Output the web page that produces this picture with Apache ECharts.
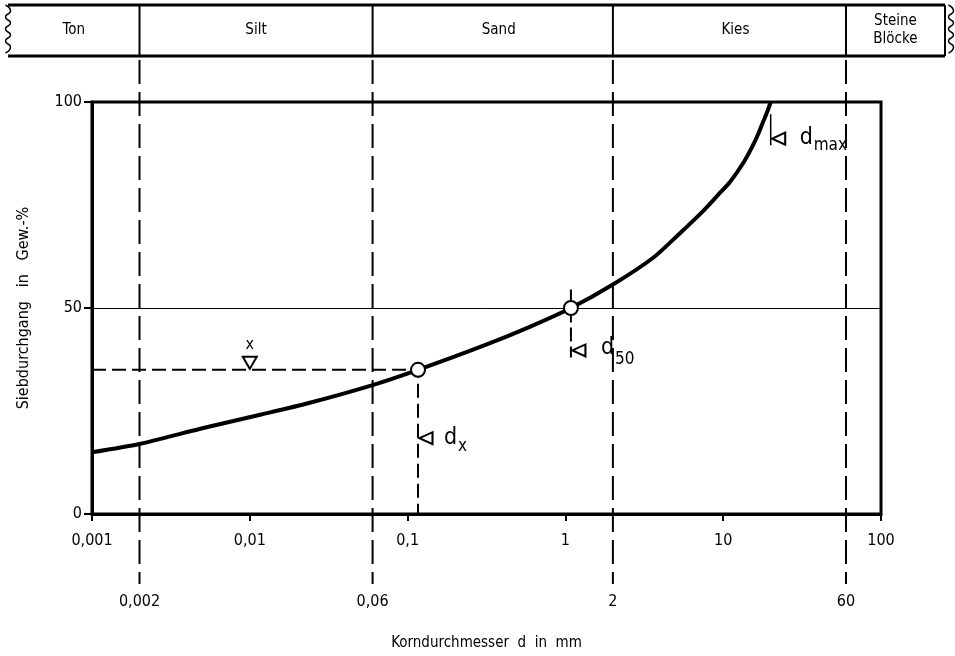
<!DOCTYPE html>
<html><head><meta charset="utf-8">
<script src="https://cdn.jsdelivr.net/npm/echarts@6/dist/echarts.min.js"></script>
<style>html,body{margin:0;padding:0;background:#fff}#c{width:955px;height:656px}</style>
</head><body><div id="c"></div>
<script>
// ---- data ----
const grainSize = [0.001, 0.002, 0.005, 0.012, 0.024, 0.06, 0.1164, 0.3, 0.6, 1.084, 2, 3.6, 5.2, 7.4, 9.2, 11.04, 13.3, 15.2, 16.7, 17.9, 19.1, 20];
const passing   = [15, 17, 20.8, 24.2, 27, 31.3, 35, 40.8, 45.5, 50, 55.7, 62.2, 67.8, 73.4, 77.3, 80.6, 85.0, 89.0, 92.3, 95.2, 97.8, 100];
const dxPoint   = [0.1164, 35];
const d50Point  = [1.084, 50];
const dmaxSize  = 20;
const waterMark = [0.01, 35];
const xTickValues = [0.001, 0.01, 0.1, 1, 10, 100];
const xTickLabels = ['0,001', '0,01', '0,1', '1', '10', '100'];
const boundaryValues = [0.002, 0.06, 2, 60];
const boundaryLabels = ['0,002', '0,06', '2', '60'];
const soilClasses = ['Ton', 'Silt', 'Sand', 'Kies', 'Steine\nBlöcke'];
const yMin = 0, yMax = 100, yStep = 50;
const markerLevels = { dx: 18.4, d50: 39.7, dmax: 91.1 };

const FONT = "'DejaVu Sans Condensed', 'DejaVu Sans', sans-serif";
const chart = echarts.init(document.getElementById('c'), null, { renderer: 'canvas' });

function labelFor(v) {
  let best = 0, bd = Infinity;
  xTickValues.forEach((t, i) => { const d = Math.abs(Math.log10(v) - Math.log10(t)); if (d < bd) { bd = d; best = i; } });
  return bd < 0.01 ? xTickLabels[best] : '';
}

const curve = grainSize.map((g, i) => [g, passing[i]]);
const dashed = { color: '#000', width: 2, type: [14, 6] };

const option = {
  animation: false,
  backgroundColor: '#fff',
  grid: { left: 92, right: 74, top: 102, bottom: 136, show: true, borderColor: '#000', borderWidth: 3 },
  xAxis: {
    type: 'log', logBase: 10, min: 0.001, max: 100,
    name: 'Korndurchmesser  d  in  mm', nameLocation: 'middle', nameGap: 122,
    nameTextStyle: { color: '#000', fontFamily: FONT, fontSize: 15 },
    axisLine: { show: true, onZero: false, lineStyle: { color: '#000', width: 3 } },
    axisTick: { show: true, length: 7, lineStyle: { color: '#000', width: 2 } },
    minorTick: { show: false },
    axisLabel: { color: '#000', fontFamily: FONT, fontSize: 16, margin: 19, formatter: labelFor },
    splitLine: { show: false }
  },
  yAxis: {
    type: 'value', min: yMin, max: yMax, interval: yStep,
    name: 'Siebdurchgang   in   Gew.-%', nameLocation: 'middle', nameGap: 60,
    nameTextStyle: { color: '#000', fontFamily: FONT, fontSize: 16 },
    axisLine: { show: true, lineStyle: { color: '#000', width: 3 } },
    axisTick: { show: true, length: 8, lineStyle: { color: '#000', width: 2 } },
    axisLabel: { color: '#000', fontFamily: FONT, fontSize: 16, margin: 10 },
    splitLine: { show: true, lineStyle: { color: '#000', width: 1 } }
  },
  series: [
    { type: 'line', data: curve, smooth: 0.25, showSymbol: false, lineStyle: { color: '#000', width: 4 }, z: 5 },
    { type: 'line', data: [[grainSize[0], dxPoint[1]], dxPoint, [dxPoint[0], yMin]], showSymbol: false, lineStyle: dashed, z: 3 },
    { type: 'line', data: [[d50Point[0], 54.5], [d50Point[0], 38]], showSymbol: false, lineStyle: { color: '#000', width: 2, type: [14, 5] }, z: 3 },
    { type: 'line', data: [[dmaxSize, 97], [dmaxSize, 89.5]], showSymbol: false, lineStyle: { color: '#000', width: 1.5 }, z: 3 },
    { type: 'scatter', data: [dxPoint, d50Point], symbol: 'circle', symbolSize: 14,
      itemStyle: { color: '#fff', opacity: 1, borderColor: '#000', borderWidth: 2 }, z: 10 },
    { type: 'scatter', data: [[dxPoint[0], markerLevels.dx], [d50Point[0], markerLevels.d50], [dmaxSize, markerLevels.dmax]],
      symbol: 'triangle', symbolRotate: 90, symbolSize: [12, 13], symbolOffset: [8, 0],
      itemStyle: { color: '#fff', opacity: 1, borderColor: '#000', borderWidth: 2 }, z: 10 },
    { type: 'scatter', data: [waterMark], symbol: 'triangle', symbolRotate: 180, symbolSize: [14, 12], symbolOffset: [0, -7],
      itemStyle: { color: '#fff', opacity: 1, borderColor: '#000', borderWidth: 2 },
      label: { show: true, formatter: 'x', position: 'top', distance: 3, color: '#000', fontFamily: FONT, fontSize: 16 }, z: 10 }
  ]
};
chart.setOption(option);

const P = (x, y) => chart.convertToPixel({ gridIndex: 0 }, [x, y]);
const g = [];
const bandTop = 5, bandBot = 56, bandL = 8, bandR = 945;
function line(x1, y1, x2, y2, w, dash) {
  g.push({ type: 'line', shape: { x1, y1, x2, y2 }, style: { stroke: '#000', lineWidth: w, lineDash: dash || null }, z: 20 });
}
function text(x, y, t, size, align, valign) {
  g.push({ type: 'text', x, y, style: { text: t, fill: '#000', font: size + 'px ' + FONT, textAlign: align || 'center', textVerticalAlign: valign || 'middle', lineHeight: size + 3 }, z: 20 });
}
function wavy(x) {
  const pts = [];
  for (let y = bandTop, i = 0; y <= bandBot; y += 6, i++) pts.push([x + (i % 2 ? 2.5 : -2.5), y]);
  g.push({ type: 'polyline', shape: { points: pts, smooth: 0.6 }, style: { stroke: '#000', lineWidth: 1.5, fill: null }, z: 20 });
}
// band
line(bandL, bandTop, bandR, bandTop, 3);
line(bandL, bandBot, bandR, bandBot, 3);
line(bandR, bandTop, bandR, bandBot, 2);
wavy(bandL);
wavy(bandR + 6);
const bx = boundaryValues.map(v => P(v, 0)[0]);
const edges = [bandL].concat(bx, [bandR]);
bx.forEach(x => line(x, bandTop, x, bandBot, 2));
soilClasses.forEach((s, i) => text((edges[i] + edges[i + 1]) / 2 + (i === 2 || i === 3 ? 6 : 0), (bandTop + bandBot) / 2, s, 15));
// boundary dashed lines + labels
bx.forEach((x, i) => {
  line(x, 60, x, 584, 2, [24, 8]);
  text(x, 602, boundaryLabels[i], 16);
});
// annotation labels
const tdx = P(dxPoint[0], markerLevels.dx);
text(tdx[0] + 26, tdx[1], 'd', 23, 'left');
text(tdx[0] + 40, tdx[1] + 8, 'x', 17, 'left');
const td50 = P(d50Point[0], markerLevels.d50);
text(td50[0] + 30, td50[1] - 2, 'd', 23, 'left');
text(td50[0] + 44, td50[1] + 9, '50', 17, 'left');
const tdm = P(dmaxSize, markerLevels.dmax);
text(tdm[0] + 29, tdm[1] - 1, 'd', 23, 'left');
text(tdm[0] + 43, tdm[1] + 7, 'max', 17, 'left');

chart.setOption({ graphic: g });
</script>
</body></html>
